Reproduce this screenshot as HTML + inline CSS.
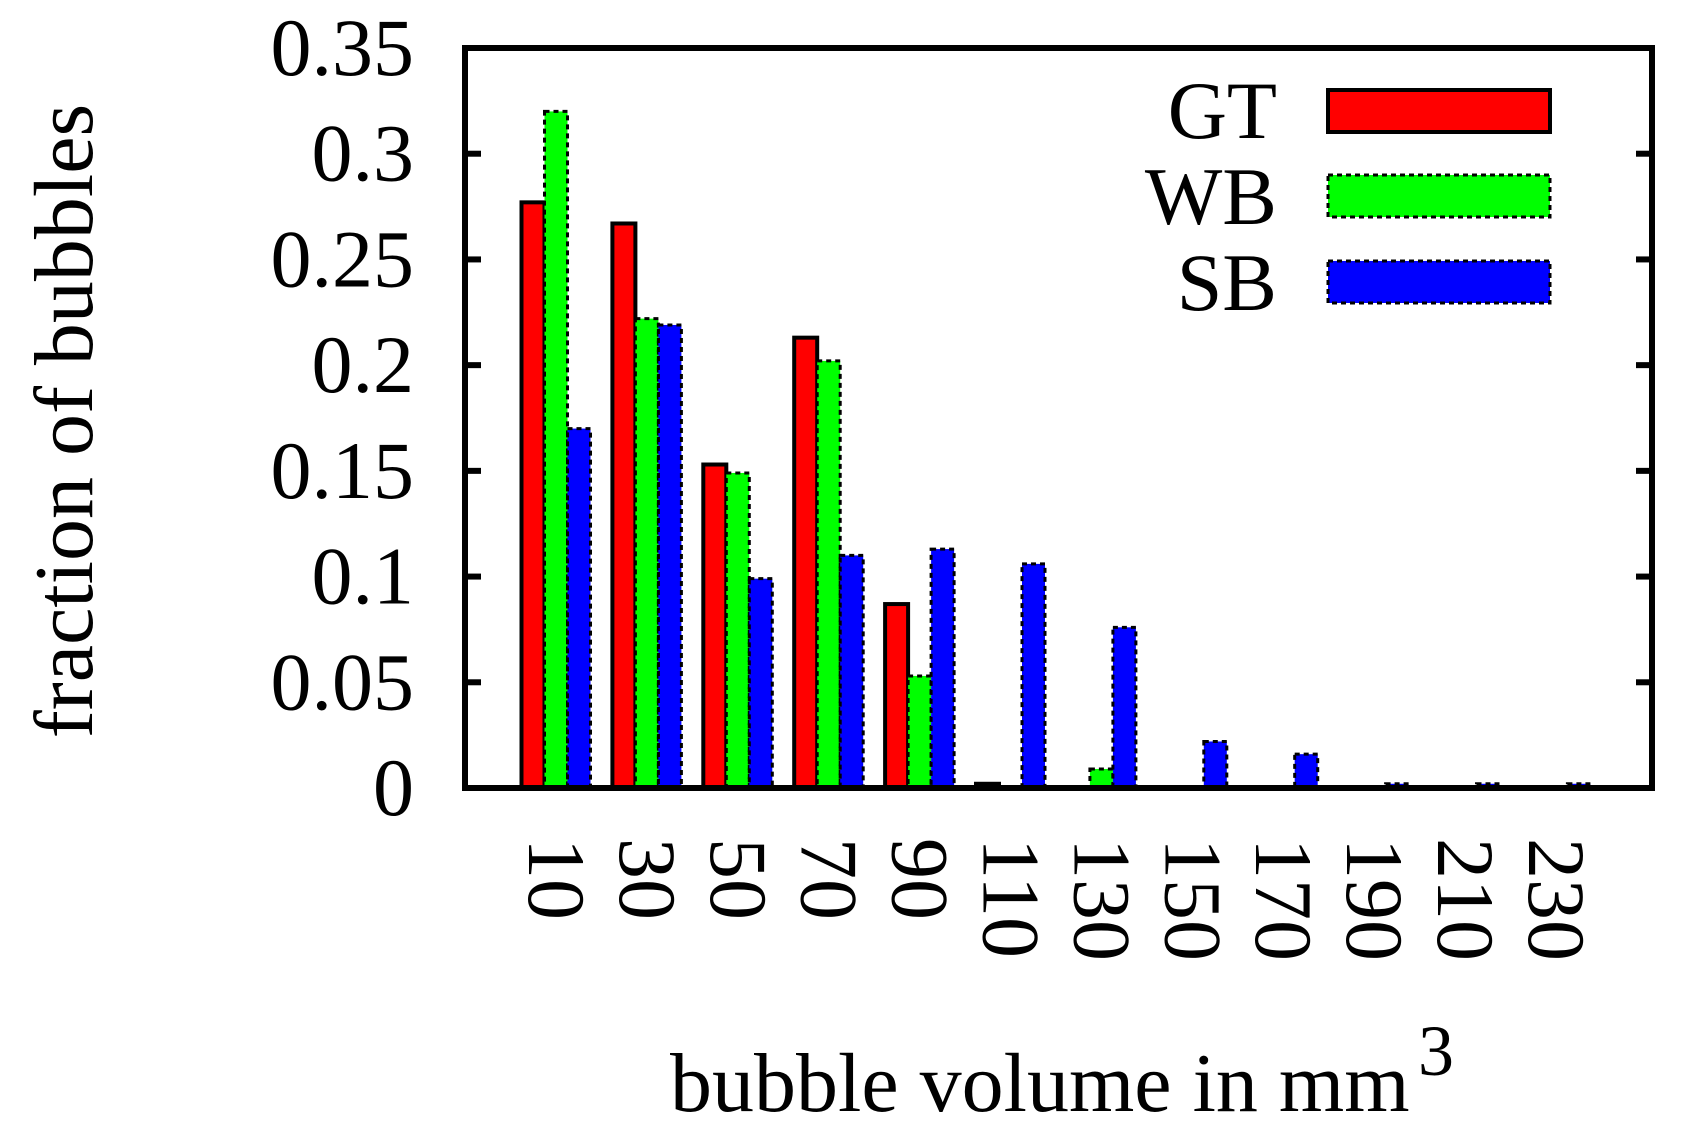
<!DOCTYPE html>
<html><head><meta charset="utf-8"><style>html,body{margin:0;padding:0;background:#fff}svg{display:block}text{font-family:"Liberation Serif",serif;fill:#000}</style></head>
<body>
<svg id="chart" width="1682" height="1139" viewBox="0 0 1682 1139" xmlns="http://www.w3.org/2000/svg">
<g id="bars"></g>
<rect x="465" y="48" width="1187" height="740" fill="none" stroke="#000" stroke-width="6"/>
<g id="axes"></g>
<text transform="translate(92,421) rotate(-90)" text-anchor="middle" font-size="84">fraction of bubbles</text>
<text x="670" y="1111" font-size="84">bubble volume in mm</text>
<text x="1418" y="1075" font-size="72">3</text>
<g>
<text x="1277" y="138" text-anchor="end" font-size="82">GT</text>
<rect x="1328" y="90" width="222" height="42" fill="#ff0000" stroke="#000" stroke-width="4"/>
<text x="1277" y="224" text-anchor="end" font-size="82">WB</text>
<rect x="1328" y="175" width="222" height="42" fill="#00ff00" stroke="#000" stroke-width="3" stroke-dasharray="5,4"/>
<text x="1277" y="310" text-anchor="end" font-size="82">SB</text>
<rect x="1328" y="261" width="222" height="42" fill="#0000ff" stroke="#000" stroke-width="3" stroke-dasharray="5,4"/>
</g>
</svg>
<script>
const categories = ["10","30","50","70","90","110","130","150","170","190","210","230"];
const gtValues = [0.277,0.267,0.153,0.213,0.087,0.002,0,0,0,0,0,0];
const wbValues = [0.320,0.222,0.149,0.202,0.053,0,0.009,0,0,0,0,0];
const sbValues = [0.170,0.219,0.099,0.110,0.113,0.106,0.076,0.022,0.016,0.002,0.002,0.002];
const yTicks = [0,0.05,0.1,0.15,0.2,0.25,0.3,0.35];
const yTickLabels = ["0","0.05","0.1","0.15","0.2","0.25","0.3","0.35"];

const NS = "http://www.w3.org/2000/svg";
const plotLeft = 465, plotRight = 1652, plotTop = 48, plotBottom = 788;
function yScale(v){ return plotBottom - v/0.35*(plotBottom-plotTop); }
function xCenter(i){ return 556 + i*90.9; }
const barW = 23;
const series = [
  {vals: gtValues, fill: "#ff0000", dash: null, off: -1, name: "gt"},
  {vals: wbValues, fill: "#00ff00", dash: "5,4", off: 0, name: "wb"},
  {vals: sbValues, fill: "#0000ff", dash: "5,4", off: 1, name: "sb"}
];
const barsG = document.getElementById("bars");
series.forEach(s => {
  s.vals.forEach((v, i) => {
    if (v <= 0) return;
    const r = document.createElementNS(NS, "rect");
    const x = xCenter(i) + s.off*barW - barW/2;
    const y = yScale(v);
    r.setAttribute("x", x);
    r.setAttribute("y", y);
    r.setAttribute("width", barW);
    r.setAttribute("height", Math.max(plotBottom - y, 1));
    r.setAttribute("fill", s.fill);
    r.setAttribute("stroke", "#000");
    r.setAttribute("stroke-width", s.dash ? "3" : "4");
    if (s.dash) r.setAttribute("stroke-dasharray", s.dash);
    
    
    barsG.appendChild(r);
  });
});
const axesG = document.getElementById("axes");
yTicks.forEach((t, i) => {
  const y = yScale(t);
  [[plotLeft, plotLeft+16],[plotRight-16, plotRight]].forEach(p => {
    const l = document.createElementNS(NS, "line");
    l.setAttribute("x1", p[0]); l.setAttribute("x2", p[1]);
    l.setAttribute("y1", y); l.setAttribute("y2", y);
    l.setAttribute("stroke", "#000"); l.setAttribute("stroke-width", "6");
    
    
    axesG.appendChild(l);
  });
  const tx = document.createElementNS(NS, "text");
  tx.setAttribute("x", 414);
  tx.setAttribute("y", y + 27);
  tx.setAttribute("text-anchor", "end");
  tx.setAttribute("font-size", "82");
  tx.textContent = yTickLabels[i];
  
  
  axesG.appendChild(tx);
});
categories.forEach((c, i) => {
  const tx = document.createElementNS(NS, "text");
  const x = xCenter(i) - 27;
  tx.setAttribute("transform", "translate(" + x + ",838) rotate(90)");
  tx.setAttribute("font-size", "82");
  tx.textContent = c;
  
  
  axesG.appendChild(tx);
});
</script>
</body></html>
